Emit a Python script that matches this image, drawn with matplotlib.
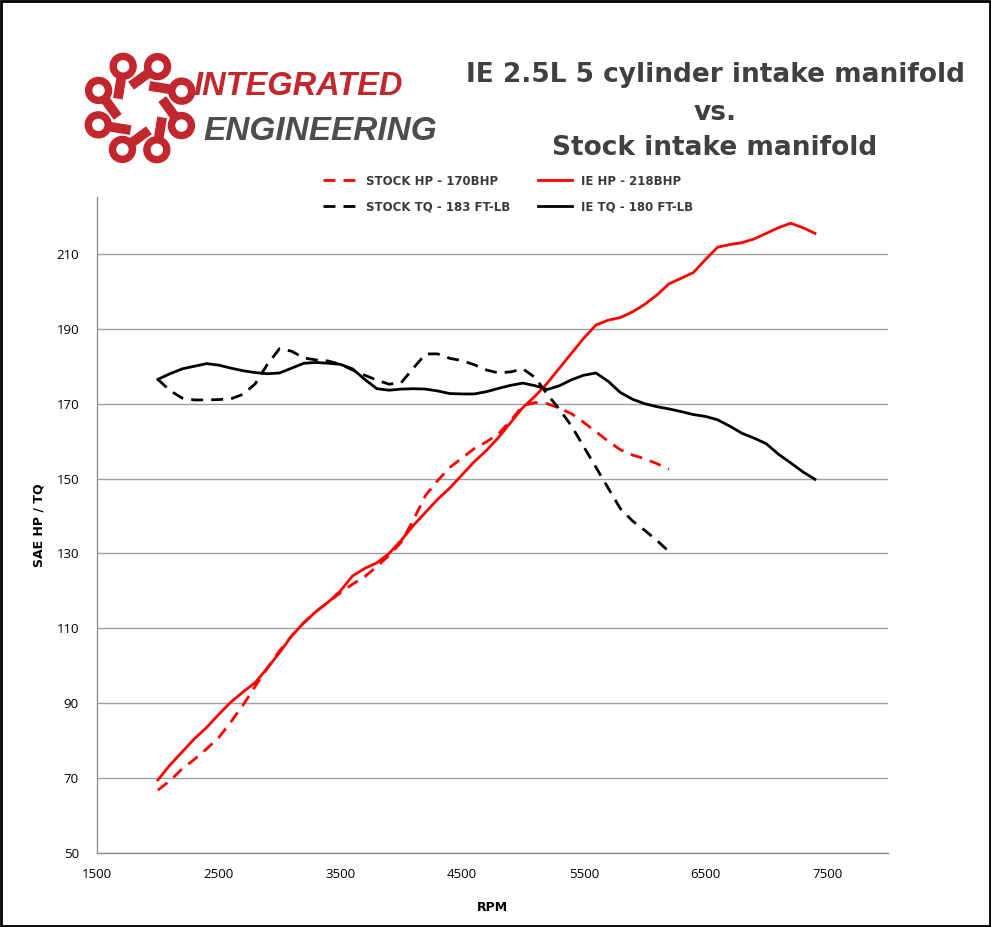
import numpy as np
import matplotlib
matplotlib.use('Agg')
import matplotlib.pyplot as plt
from matplotlib.patches import Rectangle, Circle

# %% dati
rpm_ie = [2000, 2100, 2200, 2300, 2400, 2500, 2600, 2700, 2800, 2900,
          3000, 3100, 3200, 3300, 3400, 3500, 3600, 3700, 3800, 3900,
          4000, 4100, 4200, 4300, 4400, 4500, 4600, 4700, 4800, 4900,
          5000, 5100, 5200, 5300, 5400, 5500, 5600, 5700, 5800, 5900,
          6000, 6100, 6200, 6300, 6400, 6500, 6600, 6700, 6800, 6900,
          7000, 7100, 7200, 7300, 7400]
ie_hp = [69.5, 73.5, 77.0, 80.5, 83.5, 87.0, 90.3, 93.0, 95.5, 99.4,
         103.5, 108.0, 111.5, 114.5, 117.0, 120.0, 124.0, 126.0, 127.5, 130.0,
         133.5, 137.5, 141.0, 144.5, 147.5, 151.0, 154.5, 157.5, 161.0, 165.0,
         169.0, 172.0, 175.5, 179.5, 183.5, 187.5, 191.0, 192.3, 193.0, 194.5,
         196.5, 199.0, 202.0, 203.5, 205.0, 208.5, 211.8, 212.5, 213.0, 214.0,
         215.5, 217.0, 218.2, 217.0, 215.5]
ie_tq = [176.5, 178.0, 179.3, 180.0, 180.7, 180.3, 179.5, 178.8, 178.3, 178.0,
         178.2, 179.5, 180.8, 181.0, 180.8, 180.5, 179.3, 176.5, 174.0, 173.6,
         173.9, 174.0, 173.9, 173.4, 172.7, 172.6, 172.6, 173.2, 174.1, 174.9,
         175.5, 174.8, 173.8, 174.8, 176.4, 177.6, 178.2, 176.0, 173.0, 171.2,
         170.0, 169.2, 168.6, 167.9, 167.1, 166.6, 165.7, 164.0, 162.1, 160.8,
         159.3, 156.5, 154.2, 151.8, 149.8]

rpm_stock = [2000, 2100, 2200, 2300, 2400, 2500, 2600, 2700, 2800, 2900,
             3000, 3100, 3200, 3300, 3400, 3500, 3600, 3700, 3800, 3900,
             4000, 4100, 4200, 4300, 4400, 4500, 4600, 4700, 4800, 4900,
             5000, 5100, 5200, 5300, 5400, 5500, 5600, 5700, 5800, 5900,
             6000, 6100, 6200]
stock_hp = [66.8, 69.3, 72.5, 75.0, 77.8, 80.8, 85.0, 89.5, 94.5, 99.4,
            104.0, 108.0, 111.5, 114.5, 117.0, 119.5, 121.8, 123.8, 126.5, 129.5,
            133.0, 139.0, 145.5, 149.5, 153.0, 155.5, 158.0, 159.8, 162.0, 165.5,
            169.5, 170.3, 170.0, 168.8, 167.3, 165.0, 162.5, 160.0, 157.7, 156.3,
            155.3, 154.0, 152.5]
stock_tq = [176.5, 173.5, 171.5, 171.0, 171.0, 171.1, 171.3, 172.5, 175.3, 180.5,
            184.7, 184.0, 182.2, 181.7, 181.4, 180.5, 179.0, 177.6, 176.3, 175.2,
            175.6, 179.5, 183.3, 183.3, 182.1, 181.5, 180.4, 179.0, 178.2, 178.5,
            179.3, 177.0, 172.5, 168.5, 164.0, 158.5, 153.0, 147.5, 142.0, 138.7,
            136.2, 133.5, 130.5]

x_ticks = [1500, 2500, 3500, 4500, 5500, 6500, 7500]
y_ticks = [50, 70, 90, 110, 130, 150, 170, 190, 210]

etichette = ['STOCK HP - 170BHP', 'STOCK TQ - 183 FT-LB',
             'IE HP - 218BHP', 'IE TQ - 180 FT-LB']

titolo = ['IE 2.5L 5 cylinder intake manifold', 'vs.', 'Stock intake manifold']

# %% figura
W, H = 991, 927
fig = plt.figure(figsize=(W / 100, H / 100), dpi=100)
fig.patch.set_facecolor('white')

# asse di sfondo in pixel per logo e cornice
bg = fig.add_axes([0, 0, 1, 1], zorder=0)
bg.set_xlim(0, W)
bg.set_ylim(H, 0)
bg.axis('off')

rosso_logo = '#c1272d'
grigio_logo = '#4d4d4d'

# logo: ruota di bielle
cx, cy = 140, 108
for k in range(8):
    a = np.deg2rad(-112 + k * 45)
    b = a - np.deg2rad(45)
    x1, y1 = cx + 45 * np.cos(a), cy + 45 * np.sin(a)
    x0, y0 = cx + 24 * np.cos(b), cy + 24 * np.sin(b)
    bg.plot([x0, x1], [y0, y1], color=rosso_logo, lw=7, solid_capstyle='butt', zorder=1)
    bg.add_patch(Circle((x1, y1), 13, color=rosso_logo, zorder=2))
    bg.add_patch(Circle((x1, y1), 5.5, color='white', zorder=3))

fam_logo = ['Liberation Sans Narrow', 'Liberation Sans', 'DejaVu Sans']
bg.text(193, 86, 'INTEGRATED', fontsize=23.5, fontweight='bold', style='italic',
        family=fam_logo, color=rosso_logo, ha='left', va='center')
bg.text(203, 131, 'ENGINEERING', fontsize=24, fontweight='bold', style='italic',
        family=fam_logo, color=grigio_logo, ha='left', va='center')

# titolo
for testo, yy in zip(titolo, [75, 113, 148]):
    bg.text(715, yy, testo, fontsize=19, fontweight='bold', color='#404040',
            ha='center', va='center', family='DejaVu Sans')

# cornice nera
bg.add_patch(Rectangle((0.5, 0.5), W - 1.5, H - 1.5, fill=False, ec='black', lw=2))

# grafico
ax = fig.add_axes([97 / W, 1 - 853 / H, (888 - 97) / W, (853 - 197) / H], zorder=1)
ax.patch.set_alpha(0)

ax.plot(rpm_stock, stock_hp, color='#ff0000', lw=2, dashes=(4.3, 2.9), label=etichette[0])
ax.plot(rpm_stock, stock_tq, color='black', lw=2, dashes=(4.3, 2.9), label=etichette[1])
ax.plot(rpm_ie, ie_hp, color='#ff0000', lw=2, label=etichette[2])
ax.plot(rpm_ie, ie_tq, color='black', lw=2, label=etichette[3])

ax.set_xlim(1500, 8000)
ax.set_ylim(50, 225.2)
ax.set_xticks(x_ticks)
ax.set_yticks(y_ticks)
ax.grid(axis='y', color='#a0a0a0', lw=1)
ax.set_axisbelow(True)
ax.tick_params(length=0, labelsize=9.5)
ax.tick_params(axis='x', pad=11)
ax.tick_params(axis='y', pad=13)
for lab in ax.get_xticklabels() + ax.get_yticklabels():
    lab.set_family('Open Sans')
for s in ['top', 'right']:
    ax.spines[s].set_visible(False)
for s in ['left', 'bottom']:
    ax.spines[s].set_color('#909090')
    ax.spines[s].set_linewidth(1)

ax.set_xlabel('RPM', fontsize=9, fontweight='bold', labelpad=14)
ax.set_ylabel('SAE HP / TQ', fontsize=9, fontweight='bold', labelpad=8)

ax.legend(ncol=2, loc='center', bbox_to_anchor=((508 - 97) / (888 - 97), 1 + 3 / 656),
          frameon=False, prop={'weight': 'bold', 'size': 8.5}, labelcolor='#3a3a3a',
          handlelength=2.9, handletextpad=0.7, columnspacing=2.4, labelspacing=1.1)

plt.savefig('out.png', dpi=100)
